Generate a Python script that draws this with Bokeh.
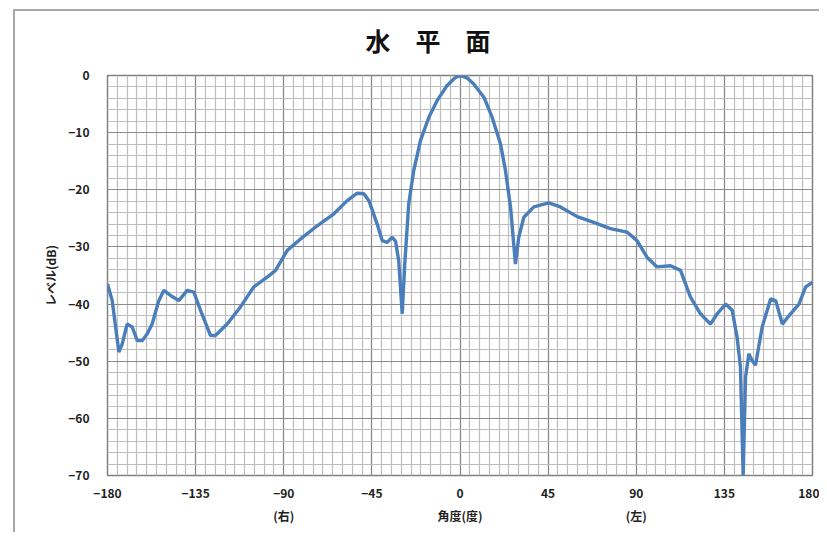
from bokeh.plotting import figure
from bokeh.models import FixedTicker, LinearAxis, Range1d, Title
from bokeh.embed import file_html
from bokeh.resources import INLINE

title_text = "水　平　面"
x_label = "角度(度)"
y_label = "レベル(dB)"
right_tag = "(右)"
left_tag = "(左)"

x_ticks = [-180, -135, -90, -45, 0, 45, 90, 135, 180]
x_tick_labels = ["−180", "−135", "−90", "−45", "0", "45", "90", "135", "180"]
y_ticks = [-70, -60, -50, -40, -30, -20, -10, 0]
side_ticks = [-90, 0, 90]
side_labels = [right_tag, x_label, left_tag]

angle = [-180, -177.6, -174.2, -172.5, -170, -167.4, -164.8, -162.3, -159.7, -157.2,
         -153.8, -151.2, -147.8, -143.6, -139.3, -135.9, -132.5, -127.4, -124.9, -118.9,
         -112.1, -105.3, -98.5, -94.2, -88.2, -81.4, -72.9, -64.4, -57.6, -52.5,
         -49.1, -46.5, -42.3, -39.7, -37.2, -34.6, -32.9, -31.3, -29.5, -28.3,
         -26.2, -23.6, -20.2, -15.9, -11.7, -6.6, -2.5, 0.2, 3.5, 7.0,
         12.2, 16.4, 20.7, 23.2, 25.8, 28.3, 30.0, 32.6, 37.7, 45.3,
         51.3, 59.8, 68.3, 76.8, 85.3, 90.4, 95.5, 100.6, 107.5, 112.6,
         117.7, 122.8, 127.9, 131.3, 135.6, 139.0, 141.5, 143.2, 144.6, 145.8,
         147.5, 149.2, 150.9, 154.3, 158.6, 161.2, 164.6, 168.8, 173.1, 176.5, 180]
level = [-36.5, -39.4, -48.4, -47.0, -43.5, -44.0, -46.4, -46.4, -45.2, -43.5,
         -39.4, -37.6, -38.5, -39.4, -37.6, -37.9, -41.1, -45.5, -45.5, -43.5,
         -40.5, -37.0, -35.3, -34.1, -30.6, -28.6, -26.3, -24.2, -21.9, -20.6,
         -20.7, -21.9, -26.0, -28.9, -29.2, -28.3, -29.0, -32.4, -41.7, -33.5,
         -22.5, -16.6, -11.4, -7.3, -4.4, -1.75, -0.4, 0.0, -0.4, -1.5,
         -3.8, -7.3, -12.0, -16.6, -23.0, -33.0, -28.3, -24.8, -23.0, -22.3,
         -23.0, -24.7, -25.7, -26.8, -27.4, -28.9, -31.8, -33.5, -33.3, -34.1,
         -38.8, -41.7, -43.5, -41.7, -40.0, -41.1, -45.8, -51.0, -70.0, -52.8,
         -48.7, -49.9, -50.7, -44.0, -39.1, -39.4, -43.5, -41.7, -40.0, -37.0, -36.2]

FONT = "Noto Sans CJK JP"

p = figure(width=819, height=532, output_backend="svg", toolbar_location=None,
           x_range=Range1d(-180, 180), y_range=Range1d(-70, 0),
           min_border_left=107, min_border_right=7, min_border_top=75, min_border_bottom=57,
           title=None)
p.styles = {"box-shadow": "inset 13px 9px 0 #ffffff, inset 15px 11px 0 #a6a6a6"}
p.background_fill_color = "white"
p.border_fill_color = None
p.outline_line_color = "#808080"
p.outline_line_width = 1.5

xt = FixedTicker(ticks=x_ticks, minor_ticks=list(range(-180, 181, 5)))
yt = FixedTicker(ticks=y_ticks, minor_ticks=list(range(-70, 1, 2)))
p.xaxis.ticker = xt
p.yaxis.ticker = yt
p.xgrid.ticker = xt
p.ygrid.ticker = yt
p.xaxis.major_label_overrides = {t: s for t, s in zip(x_ticks, x_tick_labels)}

for g in (p.xgrid, p.ygrid):
    g.grid_line_color = "#8a8a8a"
    g.grid_line_width = 1.2
    g.minor_grid_line_color = "#bdbdbd"
    g.minor_grid_line_width = 1.2

side_axis = LinearAxis(ticker=FixedTicker(ticks=side_ticks, minor_ticks=[]),
                       major_label_overrides={t: s for t, s in zip(side_ticks, side_labels)})
p.add_layout(side_axis, "below")

for ax in (p.xaxis[0], p.yaxis[0], side_axis):
    ax.axis_line_color = None
    ax.major_tick_line_color = None
    ax.minor_tick_line_color = None
    ax.major_label_text_font = FONT
    ax.major_label_text_font_size = "12px"
    ax.major_label_text_font_style = "bold"
    ax.major_label_text_color = "#222222"
    ax.axis_label_text_font = FONT
    ax.axis_label_text_font_size = "12px"
    ax.axis_label_text_font_style = "bold"
    ax.axis_label_text_color = "#222222"

p.xaxis[0].major_label_standoff = 7
side_axis.major_label_standoff = 0
p.yaxis.major_label_standoff = 12
p.yaxis.axis_label = y_label
p.yaxis.axis_label_standoff = 6

p.add_layout(Title(text=title_text, align="left", offset=258, standoff=35,
                   text_font=FONT, text_font_size="25px", text_font_style="bold",
                   text_color="#111111"), "above")

p.line(angle, level, line_color="#4a7ebb", line_width=3.4)

open("out.html", "w").write(file_html(p, INLINE))
